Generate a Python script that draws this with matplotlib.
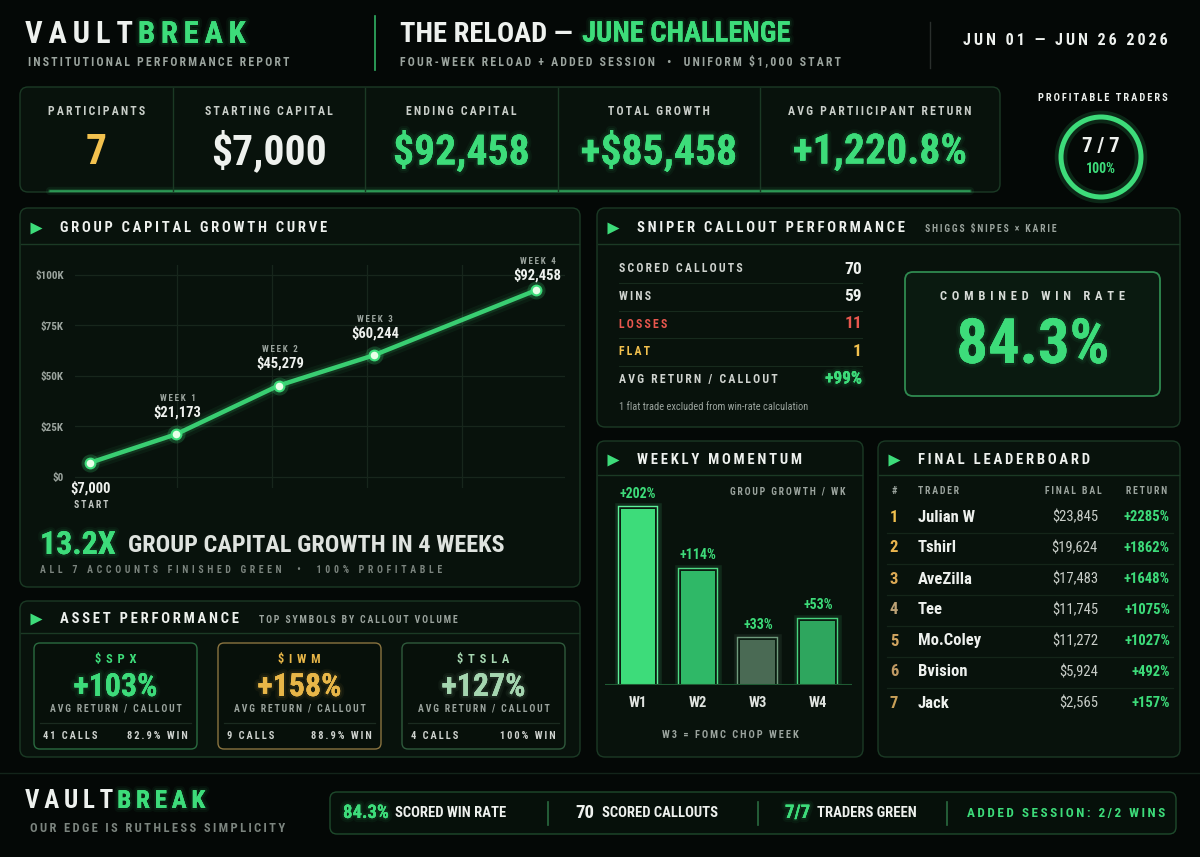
import numpy as np
import matplotlib
matplotlib.use("Agg")
import matplotlib.pyplot as plt
from matplotlib.patches import FancyBboxPatch, Circle
from matplotlib import patheffects as pe
from matplotlib import font_manager as fm
from matplotlib.ticker import FuncFormatter

# ---- data ----
kpi_labels = ["PARTICIPANTS", "STARTING CAPITAL", "ENDING CAPITAL", "TOTAL GROWTH", "AVG PARTIICIPANT RETURN"]
kpi_values = ["7", "$7,000", "$92,458", "+$85,458", "+1,220.8%"]
profitable, participants = 7, 7

curve_labels = ["START", "WEEK 1", "WEEK 2", "WEEK 3", "WEEK 4"]
curve_x = [0.08, 0.99, 2.07, 3.07, 4.78]
curve_capital = [7000, 21173, 45279, 60244, 92458]
curve_yticks = [0, 25000, 50000, 75000, 100000]

callout_labels = ["SCORED CALLOUTS", "WINS", "LOSSES", "FLAT", "AVG RETURN / CALLOUT"]
callout_values = ["70", "59", "11", "1", "+99%"]
win_rate = "84.3%"

week_names = ["W1", "W2", "W3", "W4"]
week_growth = [202, 114, 33, 53]

traders = ["Julian W", "Tshirl", "AveZilla", "Tee", "Mo.Coley", "Bvision", "Jack"]
final_bal = [23845, 19624, 17483, 11745, 11272, 5924, 2565]
trader_return = [2285, 1862, 1648, 1075, 1027, 492, 157]

assets = ["$SPX", "$IWM", "$TSLA"]
asset_return = [103, 158, 127]
asset_calls = [41, 9, 4]
asset_win = ["82.9%", "88.9%", "100%"]

# ---- style ----
BG = "#040806"
PANEL = "#08120c"
EDGE = "#1b3a25"
GREEN = "#3ddc7a"
WHITE = "#eef1ee"
GRAY = "#9ba49e"
DIM = "#7c857f"
GOLD = "#f2c14e"
RED = "#e8574e"

names = {f.name for f in fm.fontManager.ttflist}
FONT = next((n for n in ["Liberation Sans Narrow", "Roboto Condensed", "DejaVu Sans"] if n in names), "DejaVu Sans")
FAM = [FONT, "DejaVu Sans"]

W, H = 1200, 857
fig = plt.figure(figsize=(12, 8.57), dpi=100)
fig.patch.set_facecolor(BG)
bg = fig.add_axes([0, 0, 1, 1])
bg.set_xlim(0, W)
bg.set_ylim(H, 0)
bg.axis("off")
R = fig.canvas.get_renderer()


def glow_fx(color):
    return [pe.withStroke(linewidth=6, foreground=color, alpha=0.05),
            pe.withStroke(linewidth=3, foreground=color, alpha=0.08), pe.Normal()]


def txt(x, y, s, size, color=WHITE, weight="bold", ha="left", va="center", glow=False, tr=0, ax=None, **kw):
    # tr = number of thin spaces put between letters (letter tracking)
    ax = ax or bg
    if tr:
        s = ("\u2009" * tr).join(s)
    t = ax.text(x, y, s, fontsize=size, color=color, fontweight=weight, ha=ha, va=va,
                family=FAM, fontstretch="condensed", **kw)
    if glow:
        t.set_path_effects(glow_fx(color))
    return t


def seq(x, y, parts):
    # parts: (text, size, color, gap after, tracking)
    for s, size, color, gap, tr in parts:
        t = txt(x, y, s, size, color, glow=(color == GREEN and size > 12), tr=tr)
        x += t.get_window_extent(R).width + gap


def panel(x0, y0, x1, y1, title=None, head=None, sub=None, ec=EDGE, fc=PANEL, r=8, lw=1):
    bg.add_patch(FancyBboxPatch((x0, y0), x1 - x0, y1 - y0, boxstyle=f"round,pad=0,rounding_size={r}",
                                fc=fc, ec=ec, lw=lw))
    if title:
        bg.plot([x0 + 1, x1 - 1], [head, head], color=EDGE, lw=1)
        ty = (y0 + head) / 2 + 2
        bg.plot(x0 + 16, ty, marker=">", ms=8, color=GREEN, mec="none")
        t = txt(x0 + 40, ty, title, 10.5, tr=1)
        if sub:
            txt(t.get_window_extent(R).x1 + 20, ty + 1, sub, 7, GRAY, tr=1)


def px_axes(x0, y0, x1, y1):
    a = fig.add_axes([x0 / W, 1 - y1 / H, (x1 - x0) / W, (y1 - y0) / H])
    a.set_facecolor("none")
    for s in a.spines.values():
        s.set_visible(False)
    return a


# ---- header ----
seq(25, 34, [("VAULT", 22, WHITE, 5, 1), ("BREAK", 22, GREEN, 0, 1)])
txt(28, 62, "INSTITUTIONAL PERFORMANCE REPORT", 8.5, GRAY, tr=1)
bg.plot([375, 375], [16, 70], color=GREEN, lw=1.2, alpha=0.8)
seq(400, 34, [("THE RELOAD \u2014 ", 20.5, WHITE, 3, 0), ("JUNE CHALLENGE", 20.5, GREEN, 0, 0)])
txt(400, 62, "FOUR-WEEK RELOAD + ADDED SESSION  \u2022  UNIFORM $1,000 START", 8.5, GRAY, tr=1)
bg.plot([930, 930], [22, 68], color="#2a2f2c", lw=1)
txt(1168, 40, "JUN 01 \u2014 JUN 26 2026", 11.5, WHITE, ha="right", tr=1)

# ---- KPI strip ----
panel(20, 87, 1000, 192)
for lw_, a_ in [(6, 0.08), (3, 0.15), (1.2, 0.6)]:
    bg.plot([50, 970], [191, 191], color=GREEN, lw=lw_, alpha=a_, solid_capstyle="round")
dividers = [20, 173, 365, 558, 760, 1000]
kpi_colors = [GOLD, WHITE, GREEN, GREEN, GREEN]
for i, (lab, val) in enumerate(zip(kpi_labels, kpi_values)):
    cx = (dividers[i] + dividers[i + 1]) / 2
    if 0 < i:
        bg.plot([dividers[i]] * 2, [88, 191], color=EDGE, lw=1)
    txt(cx, 111, lab, 8.5, "#c9cec9", ha="center", tr=1)
    txt(cx, 152, val, 30, kpi_colors[i], ha="center", glow=kpi_colors[i] == GREEN)

txt(1103, 98, "PROFITABLE TRADERS", 7.5, WHITE, ha="center", tr=1)
bg.add_patch(Circle((1101, 157), 40, fc="#06100a", ec=GREEN, lw=9, alpha=0.15))
bg.add_patch(Circle((1101, 157), 40, fc="none", ec=GREEN, lw=3.6))
txt(1101, 146, f"{profitable} / {participants}", 15, WHITE, ha="center")
txt(1101, 169, f"{profitable / participants:.0%}", 10, GREEN, ha="center")

# ---- group capital growth curve ----
panel(20, 208, 580, 587, "GROUP CAPITAL GROWTH CURVE", head=244)
ax = px_axes(75, 265, 565, 488)
ax.set_xlim(-0.074, 5.084)
ax.set_ylim(-5446, 104950)
ax.set_yticks(curve_yticks)
ax.yaxis.set_major_formatter(FuncFormatter(lambda v, p: "$0" if v == 0 else f"${v / 1000:.0f}K"))
ax.set_xticks([1, 2, 3, 4])
ax.set_xticklabels([])
ax.tick_params(length=0, labelsize=8, labelcolor=GRAY, pad=8)
for lb in ax.get_yticklabels():
    lb.set_family(FAM)
    lb.set_fontweight("bold")
ax.grid(True, color="#17261c", lw=0.9)
for lw_, a_ in [(11, 0.06), (6.5, 0.12), (3.2, 0.92)]:
    ax.plot(curve_x, curve_capital, color=GREEN, lw=lw_, alpha=a_, solid_capstyle="round")
ax.plot(curve_x, curve_capital, "o", ms=13, color=GREEN, alpha=0.2, mec="none")
ax.plot(curve_x, curve_capital, "o", ms=7, mfc="#e8ffe8", mec=GREEN, mew=1.5)
for i, (lab, xv, yv) in enumerate(zip(curve_labels, curve_x, curve_capital)):
    if i == 0:
        val_dy, lab_dy, lab_c, lab_s = -18, -30, "#c3c8c4", 7
    else:
        val_dy = 11 if i == 4 else 16
        lab_dy, lab_c, lab_s = val_dy + 10, GRAY, 6.5
    ax.annotate(f"${yv:,}", (xv, yv), xytext=(1, val_dy), textcoords="offset points",
                ha="center", va="center", fontsize=10.5, color=WHITE, fontweight="bold", family=FAM)
    ax.annotate("\u2009".join(lab), (xv, yv), xytext=(1, lab_dy), textcoords="offset points",
                ha="center", va="center", fontsize=lab_s, color=lab_c, fontweight="bold", family=FAM)
mult = curve_capital[-1] / curve_capital[0]
seq(40, 545, [(f"{mult:.1f}X", 23, GREEN, 12, 0),
              (f"GROUP CAPITAL GROWTH IN {len(curve_capital) - 1} WEEKS", 17.5, "#dfe3df", 0, 0)])
txt(40, 570, f"ALL {participants} ACCOUNTS FINISHED GREEN  \u2022  100% PROFITABLE", 7, DIM, tr=2)

# ---- sniper callout performance ----
panel(597, 208, 1180, 427, "SNIPER CALLOUT PERFORMANCE", head=244, sub="SHIGGS $NIPES \u00d7 KARIE")
row_colors = ["#cfd3cf", "#cfd3cf", RED, GOLD, "#cfd3cf"]
val_colors = [WHITE, WHITE, RED, GOLD, GREEN]
for i, (lab, val) in enumerate(zip(callout_labels, callout_values)):
    y = 269 + 27.5 * i
    txt(619, y, lab, 8.5, row_colors[i], tr=1)
    txt(862, y, val, 12.5, val_colors[i], ha="right", glow=val_colors[i] == GREEN)
    if i < len(callout_labels) - 1:
        bg.plot([619, 862], [y + 14, y + 14], color="#172a1d", lw=0.8)
txt(619, 407, "1 flat trade excluded from win-rate calculation", 7.5, GRAY, weight="normal")
panel(905, 272, 1160, 396, ec="#2f8a50", fc="#0a1a10", r=8, lw=1.3)
txt(1033, 297, "COMBINED WIN RATE", 9, "#d8dcd8", ha="center", tr=2)
txt(1033, 346, win_rate, 45, GREEN, ha="center", glow=True)

# ---- weekly momentum ----
panel(597, 441, 863, 757, "WEEKLY MOMENTUM", head=475)
txt(845, 491, "GROUP GROWTH / WK", 7, GRAY, ha="right", tr=1)
bx = px_axes(605, 485, 852, 685)
bx.set_yscale("function", functions=(lambda v: np.sign(v) * np.abs(v) ** 0.75,
                                     lambda v: np.sign(v) * np.abs(v) ** (1 / 0.75)))
bx.set_ylim(0, 240)
bx.set_xlim(-0.55, 3.57)
bx.set_xticks([])
bx.set_yticks([])
bx.minorticks_off()
fills = ["#3ddc7a", "#2fb867", "#4a6a54", "#2ea65e"]
edges = ["#5ef09a", "#4fdc85", "#6f9a7c", "#48d37f"]
bars = bx.bar(range(len(week_growth)), week_growth, width=0.58, color=fills, lw=0, zorder=3)
for b, ec in zip(bars, edges):
    b.set_path_effects([pe.Stroke(linewidth=9, foreground=ec, alpha=0.12),
                        pe.Stroke(linewidth=4.6, foreground=ec),
                        pe.Stroke(linewidth=2.6, foreground="#0a1c10"), pe.Normal()])
bx.axhline(0, color="#1f5a33", lw=1.5, zorder=4)
for i, (nm, v) in enumerate(zip(week_names, week_growth)):
    bx.annotate(f"+{v}%", (i, v), xytext=(0, 11), textcoords="offset points", ha="center", va="center",
                fontsize=10, color=GREEN, fontweight="bold", family=FAM)
    bx.annotate(nm, (i, 0), xytext=(0, -13), textcoords="offset points", ha="center", va="center",
                fontsize=10.5, color="#dfe3df", fontweight="bold", family=FAM)
txt(730, 735, "W3 = FOMC CHOP WEEK", 7.5, GRAY, ha="center", tr=1)

# ---- final leaderboard ----
panel(878, 441, 1180, 757, "FINAL LEADERBOARD", head=475)
txt(894, 491, "#", 7.5, GRAY, ha="center")
txt(918, 491, "TRADER", 7, GRAY, tr=1)
txt(1102, 491, "FINAL BAL", 7, GRAY, ha="right", tr=1)
txt(1167, 491, "RETURN", 7, GRAY, ha="right", tr=1)
rank_colors = ["#f2c14e", "#eab54e", "#ddaa55", "#bda276", "#d0a460", "#c09a64", "#c8a058"]
for i, (nm, bal, ret) in enumerate(zip(traders, final_bal, trader_return)):
    y = 517 + 31 * i
    txt(894, y, str(i + 1), 12, rank_colors[i], ha="center")
    txt(918, y, nm, 12, WHITE)
    txt(1098, y, f"${bal:,}", 10.5, "#c9cec9", ha="right", weight="normal")
    txt(1170, y, f"+{ret}%", 10.5, GREEN, ha="right")
    if i < len(traders) - 1:
        bg.plot([887, 1173], [y + 15.5, y + 15.5], color="#142519", lw=0.9)

# ---- asset performance ----
panel(20, 601, 580, 757, "ASSET PERFORMANCE", head=633, sub="TOP SYMBOLS BY CALLOUT VOLUME")
card_fc = [GREEN, "#e8b648", "#a5d6b0"]
card_ec = ["#2a6b40", "#8a7440", "#2f5a3c"]
for i, (sym, ret, calls, win) in enumerate(zip(assets, asset_return, asset_calls, asset_win)):
    x0 = 34 + 184 * i
    x1 = x0 + 163
    cx = (x0 + x1) / 2
    panel(x0, 643, x1, 749, ec=card_ec[i], fc="#07100a", r=6)
    txt(cx, 660, sym, 9, card_fc[i], ha="center", tr=2)
    txt(cx, 687, f"+{ret}%", 23, card_fc[i], ha="center", glow=True)
    txt(cx, 709, "AVG RETURN / CALLOUT", 7, GRAY, ha="center", tr=1)
    bg.plot([x0 + 6, x1 - 6], [723, 723], color="#1b2b20", lw=0.9)
    txt(x0 + 9, 736, f"{calls} CALLS", 7.5, "#cfd3cf", tr=1)
    txt(x1 - 9, 736, f"{win} WIN", 7.5, "#cfd3cf", ha="right", tr=1)

# ---- footer ----
bg.plot([0, W], [773, 773], color="#13241a", lw=1)
seq(25, 801, [("VAULT", 18, WHITE, 4, 1), ("BREAK", 18, GREEN, 0, 1)])
txt(30, 829, "OUR EDGE IS RUTHLESS SIMPLICITY", 9, DIM, tr=1)
panel(330, 792, 1176, 834, ec="#1e4a2c", fc="#06100a", r=7)
seq(343, 813, [(win_rate, 13.5, GREEN, 6, 0), ("SCORED WIN RATE", 10.5, WHITE, 0, 0)])
seq(575, 813, [(callout_values[0], 13.5, WHITE, 8, 0), ("SCORED CALLOUTS", 10.5, WHITE, 0, 0)])
seq(785, 813, [(f"{profitable}/{participants}", 13.5, GREEN, 7, 0), ("TRADERS GREEN", 10.5, WHITE, 0, 0)])
txt(967, 813, "ADDED SESSION: 2/2 WINS", 9.5, GREEN, tr=1)
for xd in [548, 758, 947]:
    bg.plot([xd, xd], [802, 825], color="#2a6b40", lw=1.2)

fig.savefig("out.png", dpi=100, facecolor=BG)
